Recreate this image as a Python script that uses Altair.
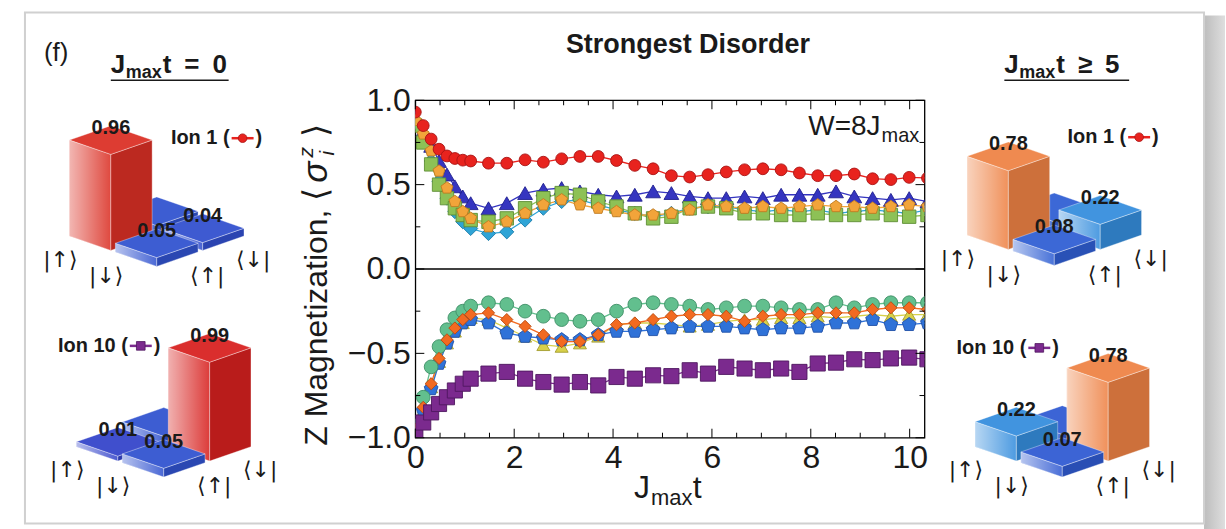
import altair as alt
import pandas as pd

FONT = "Liberation Sans"
INK = "#1a1a1a"

# ---------------------------------------------------------------------------
# Z magnetisation <sigma_i^z> versus J_max t for the ten ions (W = 8 J_max)
# ---------------------------------------------------------------------------
jt = [0.00, 0.16, 0.32, 0.48, 0.64, 0.80, 0.96, 1.12,
      1.48, 1.85, 2.22, 2.59, 2.96, 3.33, 3.70, 4.07, 4.44, 4.81, 5.18,
      5.55, 5.92, 6.29, 6.66, 7.03, 7.40, 7.77, 8.14, 8.51, 8.88, 9.25,
      9.62, 9.99, 10.36]

ion_1 = [0.93, 0.85, 0.77, 0.71, 0.67, 0.655, 0.645, 0.64,
         0.627, 0.627, 0.647, 0.633, 0.653, 0.667, 0.667, 0.643, 0.614, 0.594, 0.553,
         0.545, 0.559, 0.575, 0.588, 0.594, 0.588, 0.569, 0.553, 0.553, 0.563, 0.535,
         0.53, 0.543, 0.539]
ion_3 = [0.88, 0.80, 0.70, 0.58, 0.48, 0.40, 0.34, 0.30,
         0.25, 0.28, 0.33, 0.38, 0.41, 0.38, 0.36, 0.34, 0.32, 0.32, 0.33,
         0.35, 0.38, 0.37, 0.36, 0.37, 0.36, 0.37, 0.38, 0.37, 0.37, 0.36,
         0.37, 0.38, 0.37]
ion_5 = [0.85, 0.75, 0.62, 0.50, 0.42, 0.36, 0.32, 0.29,
         0.28, 0.30, 0.36, 0.42, 0.45, 0.44, 0.40, 0.37, 0.33, 0.30, 0.31,
         0.36, 0.37, 0.36, 0.33, 0.33, 0.32, 0.32, 0.33, 0.32, 0.32, 0.33,
         0.32, 0.31, 0.32]
ion_7 = [0.87, 0.77, 0.64, 0.52, 0.42, 0.34, 0.28, 0.24,
         0.21, 0.22, 0.29, 0.36, 0.40, 0.41, 0.38, 0.35, 0.33, 0.31, 0.33,
         0.36, 0.37, 0.37, 0.35, 0.34, 0.35, 0.34, 0.35, 0.33, 0.34, 0.35,
         0.34, 0.33, 0.35]
ion_9 = [0.90, 0.82, 0.73, 0.64, 0.56, 0.49, 0.43, 0.39,
         0.36, 0.39, 0.45, 0.47, 0.48, 0.46, 0.44, 0.43, 0.44, 0.46, 0.45,
         0.43, 0.42, 0.42, 0.43, 0.42, 0.44, 0.44, 0.44, 0.46, 0.43, 0.42,
         0.41, 0.42, 0.40]
ion_2 = [-0.95, -0.82, -0.68, -0.53, -0.42, -0.35, -0.30, -0.27,
         -0.26, -0.30, -0.34, -0.39, -0.43, -0.43, -0.39, -0.33, -0.32, -0.30, -0.28,
         -0.27, -0.27, -0.28, -0.31, -0.28, -0.27, -0.27, -0.26, -0.26, -0.26, -0.24,
         -0.23, -0.23, -0.24]
ion_4 = [-0.96, -0.84, -0.70, -0.55, -0.44, -0.37, -0.32, -0.29,
         -0.30, -0.35, -0.40, -0.45, -0.46, -0.44, -0.40, -0.33, -0.32, -0.32, -0.33,
         -0.34, -0.33, -0.31, -0.30, -0.30, -0.29, -0.29, -0.28, -0.29, -0.28, -0.27,
         -0.28, -0.27, -0.27]
ion_6 = [-0.93, -0.76, -0.58, -0.46, -0.36, -0.29, -0.25, -0.22,
         -0.20, -0.21, -0.25, -0.28, -0.30, -0.31, -0.30, -0.25, -0.21, -0.20, -0.21,
         -0.22, -0.24, -0.23, -0.22, -0.22, -0.23, -0.24, -0.24, -0.20, -0.23, -0.21,
         -0.20, -0.20, -0.20]
ion_8 = [-0.96, -0.84, -0.71, -0.56, -0.44, -0.37, -0.32, -0.30,
         -0.32, -0.38, -0.40, -0.41, -0.42, -0.42, -0.39, -0.37, -0.37, -0.36, -0.35,
         -0.34, -0.34, -0.34, -0.35, -0.36, -0.35, -0.35, -0.34, -0.32, -0.32, -0.30,
         -0.33, -0.33, -0.32]
ion_10 = [-0.99, -0.91, -0.85, -0.80, -0.76, -0.72, -0.68, -0.65,
          -0.62, -0.61, -0.65, -0.67, -0.685, -0.67, -0.69, -0.64, -0.65, -0.63, -0.635,
          -0.60, -0.62, -0.58, -0.59, -0.60, -0.59, -0.61, -0.56, -0.555, -0.535, -0.54,
          -0.53, -0.525, -0.535]

series = {"Ion 1": ion_1, "Ion 2": ion_2, "Ion 3": ion_3, "Ion 4": ion_4,
          "Ion 5": ion_5, "Ion 6": ion_6, "Ion 7": ion_7, "Ion 8": ion_8,
          "Ion 9": ion_9, "Ion 10": ion_10}

# marker styling per ion
ion_names = list(series)
ion_fill = ["#e8231e", "#f26a21", "#f2a43a", "#d8d04a", "#8dc156",
            "#62bf8e", "#2fa4d6", "#2f72d8", "#3535c0", "#7b2a8e"]
ion_edge = ["#a81414", "#b84a10", "#c07a20", "#a39c2c", "#5f8f35",
            "#3f8f66", "#1a7aa8", "#1f50a8", "#202090", "#4f1760"]
PENTAGON = "M0,-1L0.951,-0.309L0.588,0.809L-0.588,0.809L-0.951,-0.309Z"
ion_shape = ["circle", "diamond", PENTAGON, "triangle-up", "square",
             "circle", "diamond", PENTAGON, "triangle-up", "square"]
ion_size = [140, 230, 215, 165, 135, 140, 230, 215, 165, 135]

# back-to-front drawing order of the traces
draw_order = ["Ion 9", "Ion 7", "Ion 5", "Ion 3", "Ion 1",
              "Ion 4", "Ion 8", "Ion 6", "Ion 2", "Ion 10"]

rows = []
for k, name in enumerate(draw_order):
    vals = series[name]
    assert len(vals) == len(jt)
    for t, v in zip(jt, vals):
        rows.append({"t": t, "value": v, "ion": name, "k": k})
traces = pd.DataFrame(rows)

PW, PH = 510, 338
X_DOMAIN = [0, 10.3]
xs = alt.Scale(domain=X_DOMAIN, nice=False, zero=False)
ys = alt.Scale(domain=[-1, 1], nice=False)
XAX = alt.Axis(values=[0, 2, 4, 6, 8, 10], ticks=False, domain=False, grid=False,
               labelFontSize=32, labelFont=FONT, labelColor=INK, labelPadding=5,
               labelFlush=False, title=None)
YAX = alt.Axis(values=[-1, -0.5, 0, 0.5, 1], format=".1f", ticks=False, domain=False,
               grid=False, labelFontSize=32, labelFont=FONT, labelColor=INK,
               labelPadding=5, title=None)

X = alt.X("t:Q", scale=xs, axis=XAX)
Y = alt.Y("value:Q", scale=ys, axis=YAX)

zero_line = alt.Chart(pd.DataFrame({"value": [0.0]})).mark_rule(
    color="black", strokeWidth=1.3).encode(y=Y)

lines = alt.Chart(traces).mark_line(strokeWidth=1.3, clip=True).encode(
    x=X, y=Y,
    color=alt.Color("ion:N", scale=alt.Scale(domain=ion_names, range=ion_fill), legend=None),
    detail="ion:N", order="t:Q")

points = alt.Chart(traces).mark_point(filled=True, opacity=1, strokeWidth=0.9, clip=True).encode(
    x=X, y=Y,
    fill=alt.Fill("ion:N", scale=alt.Scale(domain=ion_names, range=ion_fill), legend=None),
    stroke=alt.Stroke("ion:N", scale=alt.Scale(domain=ion_names, range=ion_edge), legend=None),
    shape=alt.Shape("ion:N", scale=alt.Scale(domain=ion_names, range=ion_shape), legend=None),
    size=alt.Size("ion:N", scale=alt.Scale(domain=ion_names, range=ion_size), legend=None),
    order="k:Q")

# inward ticks on all four sides of the frame
x_major = [0, 2, 4, 6, 8, 10]
x_minor = [0.5, 1, 1.5, 2.5, 3, 3.5, 4.5, 5, 5.5, 6.5, 7, 7.5, 8.5, 9, 9.5]
y_major = [-1, -0.5, 0, 0.5, 1]
y_minor = [-0.75, -0.25, 0.25, 0.75]
MAJ, MIN = 9, 5


def xticks(vals, length):
    d = pd.DataFrame({"t": vals})
    bottom = alt.Chart(d).mark_rule(color="black", strokeWidth=1).encode(
        x=X, y=alt.value(PH), y2=alt.value(PH - length))
    top = alt.Chart(d).mark_rule(color="black", strokeWidth=1).encode(
        x=X, y=alt.value(0), y2=alt.value(length))
    return [bottom, top]


def yticks(vals, length):
    d = pd.DataFrame({"value": vals})
    left = alt.Chart(d).mark_rule(color="black", strokeWidth=1).encode(
        y=Y, x=alt.value(0), x2=alt.value(length))
    right = alt.Chart(d).mark_rule(color="black", strokeWidth=1).encode(
        y=Y, x=alt.value(PW), x2=alt.value(PW - length))
    return [left, right]


one = pd.DataFrame({"t": [0]})


def label(text, x, y, size, weight="normal", align="left", angle=0, style="normal"):
    return alt.Chart(one).mark_text(
        text=text, font=FONT, fontSize=size, fontWeight=weight, fontStyle=style,
        align=align, baseline="alphabetic", color=INK, angle=angle).encode(
        x=alt.value(x), y=alt.value(y))


# y title "Z Magnetization, <sigma_i^z>" set as rotated pieces
YB = -88
center_text = [
    label("Strongest Disorder", 273, -47, 27, "bold", "center"),
    label("W=8J", 466, 35, 28, align="right"),
    label("max", 467, 42, 20),
    label("J", 235, 398, 32, align="right"),
    label("max", 236, 405, 22),
    label("t", 278, 398, 32),
    label("Z Magnetization,", YB, 346, 32, align="left", angle=270),
    label("⟨", YB, 94, 34, align="center", angle=270),
    label("σ", YB, 72, 35, align="center", angle=270, style="italic"),
    label("z", YB - 14, 52, 21, align="center", angle=270, style="italic"),
    label("i", YB + 7, 53, 21, align="center", angle=270, style="italic"),
    label("⟩", YB, 30, 34, align="center", angle=270),
]

center = alt.layer(
    zero_line, lines, points,
    *xticks(x_major, MAJ), *xticks(x_minor, MIN),
    *yticks(y_major, MAJ), *yticks(y_minor, MIN),
    *center_text,
).properties(width=PW, height=PH,
             view=alt.ViewBackground(stroke="black", strokeWidth=1.3))

# ---------------------------------------------------------------------------
# Reduced density matrices drawn as 3-D bars: rho[ket][bra]
# ---------------------------------------------------------------------------
rho_ion1_t0 = [[0.96, 0.05], [0.05, 0.04]]
rho_ion10_t0 = [[0.01, 0.05], [0.05, 0.99]]
rho_ion1_late = [[0.78, 0.08], [0.08, 0.22]]
rho_ion10_late = [[0.22, 0.07], [0.07, 0.78]]
kets = ["|↑⟩", "|↓⟩"]
bras = ["⟨↑|", "⟨↓|"]

CW, CH, ZH, BASE, GAP = 46, 16, 96, 4, 0.05   # cell half-width, cell rise, px per unit, slab, gap
CMAP = [(0.0, (52, 64, 200)), (0.2, (40, 140, 228)), (0.5, (235, 160, 130)),
        (0.8, (238, 128, 64)), (1.0, (214, 28, 30))]


def mix(c, other, f):
    return tuple(a + (b - a) * f for a, b in zip(c, other))


def hexc(c):
    return "#%02x%02x%02x" % tuple(int(round(max(0, min(255, x)))) for x in c)


def cmap(v):
    for (v0, c0), (v1, c1) in zip(CMAP[:-1], CMAP[1:]):
        if v <= v1:
            return mix(c0, c1, (v - v0) / (v1 - v0))
    return CMAP[-1][1]


def iso(x0, y0, r, c, h):
    return [round(x0 + (r + c) * CW, 2), round(y0 + (r - c) * CH - h, 2)]


def poly(ring, fill, face, rank):
    return {"type": "Feature", "properties": {"fill": fill, "face": face, "rank": rank},
            "geometry": {"type": "Polygon", "coordinates": [ring + [ring[0]]]}}


def matrix(rho, x0, y0):
    faces, texts = [], []
    for i in range(2):
        for j in range(2):
            rank = i - j + 1            # 0 = back cell, 2 = front cell
            v = rho[i][j]
            H = BASE + v * ZH
            r0, r1, c0, c1 = i + GAP, i + 1 - GAP, j + GAP, j + 1 - GAP
            base = cmap(v)
            faces.append(poly([iso(x0, y0, r0, c0, 0), iso(x0, y0, r1, c0, 0),
                               iso(x0, y0, r1, c0, H), iso(x0, y0, r0, c0, H)],
                              hexc(mix(base, (255, 255, 255), 0.12)), "left", rank))
            faces.append(poly([iso(x0, y0, r1, c0, 0), iso(x0, y0, r1, c1, 0),
                               iso(x0, y0, r1, c1, H), iso(x0, y0, r1, c0, H)],
                              hexc(mix(base, (0, 0, 0), 0.14)), "right", rank))
            faces.append(poly([iso(x0, y0, r0, c0, H), iso(x0, y0, r1, c0, H),
                               iso(x0, y0, r1, c1, H), iso(x0, y0, r0, c1, H)],
                              hexc(mix(base, (255, 255, 255), 0.06)), "top", rank))
            if not (i == 0 and j == 1):
                lx, ly = iso(x0, y0, i + 0.5, j + 0.5, H)
                texts.append(dict(lon=lx, lat=ly - 12, text=f"{v:.2f}", size=20,
                                  weight="bold", align="center", baseline="middle",
                                  font=FONT))
    for i in range(2):
        lx, ly = iso(x0, y0, i + 0.5, -0.6, 0)
        texts.append(dict(lon=lx, lat=ly + 6, text=kets[i], size=22,
                          weight="normal", align="center", baseline="middle",
                          font="DejaVu Sans"))
    for j in range(2):
        lx, ly = iso(x0, y0, 2.6, j + 0.5, 0)
        texts.append(dict(lon=lx, lat=ly + 6, text=bras[j], size=22,
                          weight="normal", align="center", baseline="middle",
                          font="DejaVu Sans"))
    return faces, texts


EN = "\u2002"


def txt(x, y, text, size, weight="bold", align="left", baseline="alphabetic"):
    return dict(lon=x, lat=y, text=text, size=size, weight=weight, align=align,
                baseline=baseline, font=FONT)


def header(x, y, tail):
    return [txt(x, y, "J", 26), txt(x + 15, y + 5, "max", 18), txt(x + 52, y, tail, 26)]


def ion_tag(xm, y, name):
    return [txt(xm - 13, y, f"{name} (", 20, align="right", baseline="middle"),
            txt(xm + 13, y, ")", 20, align="left", baseline="middle")]


TOP = 99
# every side panel uses the same planar projection: panel-local pixels
PROJ = dict(type="identity", scale=1, translate=[0, -TOP])


def shifted(rows, dx, keys):
    out = []
    for r in rows:
        r = dict(r)
        for k in keys:
            r[k] = r[k] - dx
        out.append(r)
    return out


SHADE = alt.Gradient(gradient="linear", x1=0, x2=1, y1=0, y2=0,
                     stops=[alt.GradientStop(color="rgba(255,255,255,0.6)", offset=0),
                            alt.GradientStop(color="rgba(255,255,255,0)", offset=1)])


def panel(mats, texts, rules, markers, width, x_origin, extra=()):
    faces = []
    for rho, x0, y0 in mats:
        f, t = matrix(rho, x0 - x_origin, y0)
        faces += f
        texts = texts + shifted(t, -x_origin, ["lon"])
    texts = shifted(texts, x_origin, ["lon"])
    rules = shifted(rules, x_origin, ["x1", "x2"])
    markers = shifted(markers, x_origin, ["x"])
    layers = list(extra)
    # painter's order: back cells first, each followed by its soft highlight
    for rank in range(3):
        fr = [f for f in faces if f["properties"]["rank"] == rank]
        layers.append(alt.Chart(alt.Data(values=fr)).mark_geoshape(
            stroke="white", strokeWidth=0.6, strokeOpacity=0.6, clip=False).encode(
            fill=alt.Fill("properties.fill:N", scale=None)).project(**PROJ))
        layers.append(alt.Chart(alt.Data(values=[f for f in fr if f["properties"]["face"] == "left"]))
                      .mark_geoshape(fill=SHADE, strokeWidth=0, clip=False).project(**PROJ))
    rdf = pd.DataFrame(rules)
    layers.append(alt.Chart(rdf).mark_rule(clip=False).encode(
        longitude="x1:Q", latitude="y1:Q", longitude2="x2:Q", latitude2="y2:Q",
        color=alt.Color("c:N", scale=None), strokeWidth=alt.StrokeWidth("w:Q", scale=None)
    ).project(**PROJ))
    for m in markers:
        layers.append(alt.Chart(pd.DataFrame([m])).mark_point(
            filled=True, opacity=1, shape=m["shape"], size=75, fill=m["fill"],
            stroke=m["edge"], strokeWidth=0.8, clip=False).encode(
            longitude="x:Q", latitude="y:Q").project(**PROJ))
    tdf = pd.DataFrame(texts)
    for (fnt, w, a, b), g in tdf.groupby(["font", "weight", "align", "baseline"]):
        layers.append(alt.Chart(g.reset_index(drop=True)).mark_text(
            font=fnt, fontWeight=w, align=a, baseline=b, color=INK, clip=False).encode(
            longitude="lon:Q", latitude="lat:Q", text="text:N",
            size=alt.Size("size:Q", scale=None)).project(**PROJ))
    return alt.layer(*layers).properties(width=width, height=PH)


# page background, outer frame and its drop shadow
page = pd.DataFrame({"t": [0]})
page_bg = alt.Chart(page).mark_rect(fill="white").encode(
    x=alt.value(0), x2=alt.value(1226), y=alt.value(-TOP), y2=alt.value(529 - TOP))
shadow = alt.Chart(page).mark_rect(
    fill=alt.Gradient(gradient="linear", x1=0, x2=1, y1=0, y2=0,
                      stops=[alt.GradientStop(color="#bdbdbd", offset=0),
                             alt.GradientStop(color="#dedede", offset=1)])).encode(
    x=alt.value(1205), x2=alt.value(1226), y=alt.value(14 - TOP), y2=alt.value(529 - TOP))
frame = alt.Chart(page).mark_rect(fillOpacity=0, stroke="#d0d0d0", strokeWidth=2).encode(
    x=alt.value(24), x2=alt.value(1205), y=alt.value(11 - TOP), y2=alt.value(523 - TOP))

red_dot = dict(shape="circle", fill=ion_fill[0], edge=ion_edge[0])
purple_sq = dict(shape="square", fill=ion_fill[9], edge=ion_edge[9])

left_texts = ([txt(43, 60, "(f)", 26, weight="normal")]
              + header(110, 72, f"t{EN}={EN}0") + ion_tag(242, 137, "Ion 1") + ion_tag(140, 345, "Ion 10"))
left_rules = [dict(x1=110, y1=79, x2=228, y2=79, c=INK, w=1.6),
              dict(x1=231, y1=137, x2=253, y2=137, c=ion_fill[0], w=2.5),
              dict(x1=129, y1=345, x2=151, y2=345, c=ion_fill[9], w=2.5)]
left_markers = [dict(x=242, y=137, **red_dot), dict(x=140, y=345, **purple_sq)]

right_texts = (header(1005, 72, f"t{EN}≥{EN}5") + ion_tag(1140, 136, "Ion 1") + ion_tag(1040, 347, "Ion 10"))
right_rules = [dict(x1=1005, y1=79, x2=1130, y2=79, c=INK, w=1.6),
               dict(x1=1129, y1=136, x2=1151, y2=136, c=ion_fill[0], w=2.5),
               dict(x1=1029, y1=347, x2=1051, y2=347, c=ion_fill[9], w=2.5)]
right_markers = [dict(x=1140, y=136, **red_dot), dict(x=1040, y=347, **purple_sq)]

LEFT_W = 415
left = panel([(rho_ion1_t0, 64, 235), (rho_ion10_t0, 71, 446)],
             left_texts, left_rules, left_markers, LEFT_W, 0,
             extra=(page_bg, shadow, frame))
right = panel([(rho_ion1_late, 963, 234), (rho_ion10_late, 971, 446)],
              right_texts, right_rules, right_markers, 1226 - LEFT_W - PW, LEFT_W + PW)

chart = alt.hconcat(left, center, right, spacing=0, bounds="flush").properties(
    padding=0).configure_view(stroke=None).configure(background="white")

chart.save("out.html", embed_options={"renderer": "svg", "actions": False})
